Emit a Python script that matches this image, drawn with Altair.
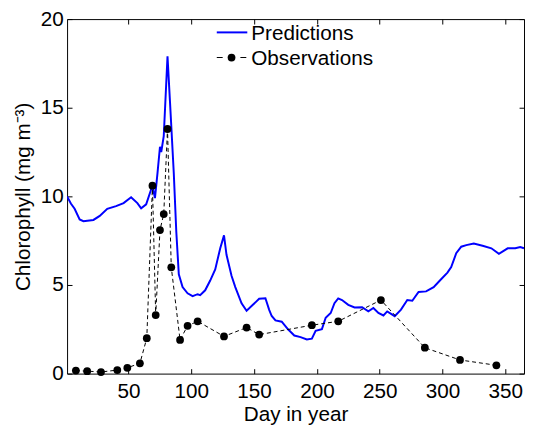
import altair as alt
import pandas as pd

# Model predictions (day of year, chlorophyll mg m^-3)
pred_day = [1, 4, 7, 11, 14, 22, 27, 33, 40, 46, 52, 57, 60, 64, 68, 69, 71, 73, 75, 76,
            78, 81, 83, 86, 88, 90, 93, 97, 101, 105, 107, 111, 115, 119, 123, 126, 128,
            132, 135, 140, 144, 149, 154, 159, 162, 164, 167, 172, 177, 182, 187, 192, 196,
            199, 204, 207, 211, 214, 217, 220, 225, 230, 236, 241, 245, 249, 253, 256, 262,
            267, 272, 276, 281, 287, 293, 298, 304, 307, 311, 315, 319, 325, 332, 339, 345,
            352, 358, 362, 365]
pred_chl = [10.0, 9.6, 9.3, 8.7, 8.6, 8.67, 8.9, 9.3, 9.45, 9.62, 9.95, 9.62, 9.33, 9.55,
            10.4, 10.6, 9.9, 11.3, 12.8, 12.5, 13.4, 17.9, 15.3, 11.3, 8.0, 5.6, 4.88, 4.53,
            4.37, 4.48, 4.43, 4.7, 5.25, 5.88, 7.07, 7.8, 6.7, 5.52, 4.88, 3.97, 3.55, 3.88,
            4.22, 4.25, 3.6, 3.25, 3.0, 2.93, 2.5, 2.15, 2.06, 1.93, 1.97, 2.42, 2.51, 3.15,
            3.42, 3.97, 4.24, 4.15, 3.88, 3.73, 3.75, 3.51, 3.7, 3.42, 3.28, 3.51, 3.24, 3.61,
            4.15, 4.11, 4.61, 4.64, 4.88, 5.25, 5.7, 6.01, 6.79, 7.16, 7.25, 7.34, 7.21, 7.07,
            6.76, 7.07, 7.07, 7.14, 7.07]

# Observations
obs_day = [8, 17, 28, 41, 49, 59, 64.5, 69, 71.6, 75, 78, 81, 84, 91, 97, 105, 126, 144,
           154, 196, 217, 251, 286, 314, 343]
obs_chl = [0.17, 0.14, 0.09, 0.2, 0.33, 0.58, 2.0, 10.6, 3.3, 8.1, 9.0, 13.8, 6.0, 1.9,
           2.7, 2.95, 2.1, 2.6, 2.2, 2.73, 2.95, 4.15, 1.46, 0.77, 0.47]

x_ticks = [50, 100, 150, 200, 250, 300, 350]
y_ticks = [0, 5, 10, 15, 20]
legend_labels = ["Predictions", "Observations"]
x_title = "Day in year"
y_title = "Chlorophyll (mg m\u207b\u00b3)"

FONT = "Liberation Sans"
FS = 21

pred = pd.DataFrame({"day": pred_day, "chl": pred_chl})
obs = pd.DataFrame({"day": obs_day, "chl": obs_chl})
one = pd.DataFrame({"k": [0]})

xscale = alt.Scale(domain=[1, 365], nice=False, zero=False)
yscale = alt.Scale(domain=[0, 20], nice=False, zero=False)

pred_line = alt.Chart(pred).mark_line(color="#0000ff", strokeWidth=2, clip=True).encode(
    x=alt.X("day:Q", scale=xscale,
            axis=alt.Axis(orient="bottom", values=x_ticks, offset=-5, tickSize=5,
                          domain=False, grid=False, labelPadding=7, title=x_title,
                          titlePadding=3)),
    y=alt.Y("chl:Q", scale=yscale,
            axis=alt.Axis(orient="left", values=y_ticks, offset=-5, tickSize=5,
                          domain=False, grid=False, labelPadding=4, title=y_title,
                          titlePadding=7)),
)

obs_line = alt.Chart(obs).mark_line(color="black", strokeWidth=1, strokeDash=[4, 3]).encode(
    x=alt.X("day:Q", scale=xscale,
            axis=alt.Axis(orient="top", values=x_ticks, offset=-5, tickSize=5,
                          domain=False, grid=False, labels=False, title=None)),
    y=alt.Y("chl:Q", scale=yscale,
            axis=alt.Axis(orient="right", values=y_ticks, offset=-5, tickSize=5,
                          domain=False, grid=False, labels=False, title=None)),
)

obs_pts = alt.Chart(obs).mark_circle(color="black", size=62, opacity=1).encode(
    x=alt.X("day:Q", scale=xscale, axis=None),
    y=alt.Y("chl:Q", scale=yscale, axis=None),
)

# legend (drawn in pixel space)
leg_pred_line = alt.Chart(one).mark_rule(color="#0000ff", strokeWidth=2).encode(
    x=alt.value(152), x2=alt.value(183), y=alt.value(13.5))
leg_pred_text = alt.Chart(one).mark_text(align="left", baseline="alphabetic", font=FONT,
                                         fontSize=FS, color="black").encode(
    x=alt.value(187), y=alt.value(21), text=alt.value(legend_labels[0]))
leg_obs_d1 = alt.Chart(one).mark_rule(color="black", strokeWidth=1).encode(
    x=alt.value(152), x2=alt.value(158), y=alt.value(39))
leg_obs_d2 = alt.Chart(one).mark_rule(color="black", strokeWidth=1).encode(
    x=alt.value(176), x2=alt.value(182), y=alt.value(39))
leg_obs_dot = alt.Chart(one).mark_circle(color="black", size=62, opacity=1).encode(
    x=alt.value(167), y=alt.value(39))
leg_obs_text = alt.Chart(one).mark_text(align="left", baseline="alphabetic", font=FONT,
                                        fontSize=FS, color="black").encode(
    x=alt.value(187), y=alt.value(46.5), text=alt.value(legend_labels[1]))

chart = alt.layer(
    pred_line, obs_line, obs_pts,
    leg_pred_line, leg_pred_text, leg_obs_d1, leg_obs_d2, leg_obs_dot, leg_obs_text,
).resolve_axis(x="independent", y="independent").properties(
    width=464, height=360,
    autosize=alt.AutoSizeParams(type="none"),
    padding={"left": 60, "top": 8, "right": 1, "bottom": 55},
    background="white",
).configure_view(
    stroke="black", strokeWidth=1
).configure_axis(
    labelFont=FONT, labelFontSize=FS, labelColor="black",
    titleFont=FONT, titleFontSize=FS, titleColor="black", titleFontWeight="normal",
    tickColor="black", tickWidth=1,
)

chart.save("out.html", embed_options={"renderer": "svg", "actions": False})
